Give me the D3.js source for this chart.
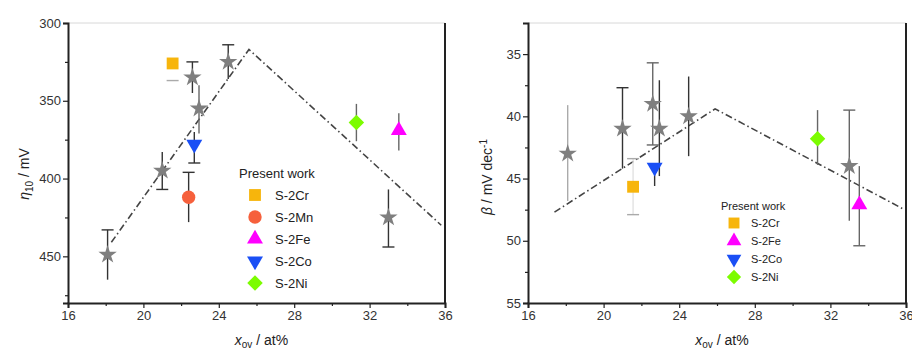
<!DOCTYPE html>
<html>
<head>
<meta charset="utf-8">
<script src="https://cdn.jsdelivr.net/npm/d3@7"></script>
<style>
  body { margin: 0; background: #fff; }
  svg text { font-family: "Liberation Sans", Arial, sans-serif; }
</style>
</head>
<body>
<div id="chart"></div>
<script>
// ---------------------------------------------------------------------------
// Data
// ---------------------------------------------------------------------------
const xTicks = [16, 20, 24, 28, 32, 36];
const xMinor = [18, 22, 26, 30, 34];

// literature points (grey stars), shared x
const starX = [18.1, 21.0, 22.6, 22.95, 24.5, 33.0];

// left panel : eta10
const etaTicks = [300, 350, 400, 450];
const etaMinor = [325, 375, 425, 475];
const etaStar = [449, 395, 335, 355, 325, 425];
const etaStarErr = [[433, 465], [383, 407], [325, 345], [340, 371], [314, 336], [407, 444]];
const etaStarCap = ["t", "b", "t", "", "t", "b"];
const etaStarTone = ["dark", "dark", "dark", "grey", "dark", "dark"];

const etaSamples = ["S-2Cr", "S-2Mn", "S-2Fe", "S-2Co", "S-2Ni"];
const etaWorkX = [21.55, 22.4, 33.55, 22.7, 31.3];
const etaWork = [326, 412, 369, 378, 364];
const etaWorkErr = [[337, 337], [396, 428], [358, 382], [370, 390], [352, 376]];
const etaWorkCap = ["b", "t", "", "b", ""];
const etaWorkTone = ["light", "dark", "grey", "dark", "grey"];

const etaGuideX = [18.3, 25.6, 35.8];
const etaGuide = [441, 317, 430];

// right panel : Tafel slope beta
const betaTicks = [35, 40, 45, 50, 55];
const betaMinor = [37.5, 42.5, 47.5, 52.5];
const betaStar = [43.0, 41.0, 39.0, 41.0, 40.0, 44.0];
const betaStarErr = [[39.1, 46.8], [37.7, 44.2], [35.7, 42.3], [37.1, 44.8], [36.8, 43.2], [39.5, 48.4]];
const betaStarCap = ["", "t", "tb", "", "", "t"];
const betaStarTone = ["light", "dark", "grey", "dark", "dark", "grey"];

const betaSamples = ["S-2Cr", "S-2Fe", "S-2Co", "S-2Ni"];
const betaWorkX = [21.56, 33.53, 22.7, 31.32];
const betaWork = [45.66, 47.1, 44.1, 41.8];
const betaWorkErr = [[43.4, 47.9], [44.0, 50.4], [44.1, 45.6], [39.5, 43.9]];
const betaWorkCap = ["tb", "b", "", ""];
const betaWorkTone = ["faint", "grey", "dark", "grey"];

const betaGuideX = [17.4, 25.9, 35.8];
const betaGuide = [47.7, 39.4, 47.4];

// ---------------------------------------------------------------------------
// Styles
// ---------------------------------------------------------------------------
const tones = { dark: "#333", grey: "#666", light: "#aaa", faint: "#e2e2e2" };
const sampleStyle = {
  "S-2Cr": { color: "#f7b50c", type: d3.symbolSquare, size: 140, rot: 0 },
  "S-2Mn": { color: "#f6603c", type: d3.symbolCircle, size: 140, rot: 0 },
  "S-2Fe": { color: "#ff00ff", type: d3.symbolTriangle, size: 110, rot: 0 },
  "S-2Co": { color: "#1a4ff5", type: d3.symbolTriangle, size: 110, rot: 180 },
  "S-2Ni": { color: "#7cfc00", type: d3.symbolSquare, size: 120, rot: 45 }
};
const starColor = "#7f7f7f";

const width = 912, height = 352;
const svg = d3.select("#chart").append("svg")
  .attr("width", width)
  .attr("height", height);

function drawPanel(p) {
  const x = d3.scaleLinear().domain([16, 36]).range([p.left, p.right]);
  const y = d3.scaleLinear().domain(p.yDomain).range([p.top, p.bottom]);
  const g = svg.append("g");

  // frame: light top, thick right
  g.append("line").attr("x1", p.left).attr("x2", p.right)
    .attr("y1", p.top).attr("y2", p.top)
    .attr("stroke", "#d8d8d8").attr("stroke-width", 1);
  g.append("line").attr("x1", p.right).attr("x2", p.right)
    .attr("y1", p.top).attr("y2", p.bottom)
    .attr("stroke", "#222").attr("stroke-width", 2);

  // axes
  g.append("g")
    .attr("transform", "translate(0," + p.bottom + ")")
    .call(d3.axisBottom(x).tickValues(xTicks).tickSize(5).tickPadding(3).tickFormat(d3.format("d")));
  g.append("g")
    .attr("transform", "translate(0," + p.bottom + ")")
    .call(d3.axisBottom(x).tickValues(xMinor).tickSize(3).tickFormat(""))
    .select(".domain").remove();
  g.append("g")
    .attr("transform", "translate(" + p.left + ",0)")
    .call(d3.axisLeft(y).tickValues(p.yTicks).tickSize(5).tickPadding(2).tickFormat(d3.format("d")));
  g.append("g")
    .attr("transform", "translate(" + p.left + ",0)")
    .call(d3.axisLeft(y).tickValues(p.yMinor).tickSize(3).tickFormat(""))
    .select(".domain").remove();

  g.selectAll(".domain").attr("stroke", "#222").attr("stroke-width", 2);
  g.selectAll(".tick line").attr("stroke", "#222").attr("stroke-width", 1.2);
  g.selectAll(".tick text").attr("fill", "#333").style("font-size", "13px");

  // dash-dot guide
  const guide = d3.line().x(d => x(d[0])).y(d => y(d[1]));
  g.append("path")
    .datum(p.guideX.map((v, i) => [v, p.guideY[i]]))
    .attr("d", guide)
    .attr("fill", "none")
    .attr("stroke", "#444")
    .attr("stroke-width", 1.6)
    .attr("stroke-dasharray", "7,3,1.5,3");

  // error bars
  const errs = [];
  starX.forEach((v, i) => errs.push({ x: v, e: p.starErr[i], cap: p.starCap[i], tone: p.starTone[i] }));
  p.workX.forEach((v, i) => errs.push({ x: v, e: p.workErr[i], cap: p.workCap[i], tone: p.workTone[i] }));
  const eb = g.append("g");
  errs.forEach(d => {
    const c = tones[d.tone];
    const cx = x(d.x);
    eb.append("line").attr("x1", cx).attr("x2", cx)
      .attr("y1", y(d.e[0])).attr("y2", y(d.e[1]))
      .attr("stroke", c).attr("stroke-width", 1.4);
    // caps drawn with at least the light tone so they stay visible
    const cc = d.tone === "faint" ? tones.light : c;
    if (d.cap.includes("t")) {
      eb.append("line").attr("x1", cx - 6).attr("x2", cx + 6)
        .attr("y1", y(d.e[0])).attr("y2", y(d.e[0]))
        .attr("stroke", cc).attr("stroke-width", 1.4);
    }
    if (d.cap.includes("b")) {
      eb.append("line").attr("x1", cx - 6).attr("x2", cx + 6)
        .attr("y1", y(d.e[1])).attr("y2", y(d.e[1]))
        .attr("stroke", cc).attr("stroke-width", 1.4);
    }
  });

  // stars
  g.selectAll(".star")
    .data(starX.map((v, i) => [v, p.starY[i]]))
    .enter().append("path")
    .attr("class", "star")
    .attr("d", d3.symbol().type(d3.symbolStar).size(105))
    .attr("transform", d => "translate(" + x(d[0]) + "," + y(d[1]) + ")")
    .attr("fill", starColor);

  // present work markers
  g.selectAll(".work")
    .data(p.samples.map((s, i) => ({ s: s, x: p.workX[i], y: p.workY[i] })))
    .enter().append("path")
    .attr("class", "work")
    .attr("d", d => d3.symbol().type(sampleStyle[d.s].type).size(sampleStyle[d.s].size)())
    .attr("transform", d => "translate(" + x(d.x) + "," + y(d.y) + ") rotate(" + sampleStyle[d.s].rot + ")")
    .attr("fill", d => sampleStyle[d.s].color);

  // legend
  const lg = g.append("g");
  lg.append("text")
    .attr("x", p.legend.x).attr("y", p.legend.y)
    .attr("fill", "#222")
    .style("font-size", p.legend.font + "px")
    .text("Present work");
  p.samples.forEach((s, i) => {
    const yy = p.legend.y + p.legend.first + i * p.legend.step;
    const st = sampleStyle[s];
    lg.append("path")
      .attr("d", d3.symbol().type(st.type).size(st.size * p.legend.scale)())
      .attr("transform", "translate(" + (p.legend.x + p.legend.sym) + "," + yy + ") rotate(" + st.rot + ")")
      .attr("fill", st.color);
    lg.append("text")
      .attr("x", p.legend.x + p.legend.txt).attr("y", yy)
      .attr("dy", "0.35em")
      .attr("fill", "#222")
      .style("font-size", p.legend.font + "px")
      .text(s);
  });

  // axis titles
  const xt = g.append("text")
    .attr("x", (p.left + p.right) / 2 + 5).attr("y", 345)
    .attr("text-anchor", "middle")
    .attr("fill", "#222")
    .style("font-size", "14px");
  xt.append("tspan").style("font-style", "italic").text("x");
  xt.append("tspan").attr("dy", 3).style("font-size", "10px").text("ov");
  xt.append("tspan").attr("dy", -3).text(" / at%");

  const yt = g.append("text")
    .attr("transform", "translate(" + p.yTitleX + "," + p.yTitleY + ") rotate(-90)")
    .attr("text-anchor", "middle")
    .attr("fill", "#222")
    .style("font-size", "14px");
  p.yTitle(yt);
}

drawPanel({
  left: 68, right: 445, top: 23, bottom: 303,
  yDomain: [300, 480], yTicks: etaTicks, yMinor: etaMinor,
  starY: etaStar, starErr: etaStarErr, starCap: etaStarCap, starTone: etaStarTone,
  samples: etaSamples, workX: etaWorkX, workY: etaWork,
  workErr: etaWorkErr, workCap: etaWorkCap, workTone: etaWorkTone,
  guideX: etaGuideX, guideY: etaGuide,
  legend: { x: 239, y: 178, first: 17, step: 22, sym: 16, txt: 36, font: 13, scale: 1 },
  yTitleX: 29, yTitleY: 174,
  yTitle: t => {
    t.append("tspan").style("font-style", "italic").text("η");
    t.append("tspan").attr("dy", 4).style("font-size", "10px").text("10");
    t.append("tspan").attr("dy", -4).text(" / mV");
  }
});

drawPanel({
  left: 528, right: 906, top: 23, bottom: 303,
  yDomain: [32.5, 55], yTicks: betaTicks, yMinor: betaMinor,
  starY: betaStar, starErr: betaStarErr, starCap: betaStarCap, starTone: betaStarTone,
  samples: betaSamples, workX: betaWorkX, workY: betaWork,
  workErr: betaWorkErr, workCap: betaWorkCap, workTone: betaWorkTone,
  guideX: betaGuideX, guideY: betaGuide,
  legend: { x: 721, y: 210, first: 13, step: 18, sym: 13, txt: 30, font: 11, scale: 0.85 },
  yTitleX: 492, yTitleY: 177,
  yTitle: t => {
    t.append("tspan").style("font-style", "italic").text("β");
    t.append("tspan").text(" / mV dec");
    t.append("tspan").attr("dy", -5).style("font-size", "10px").text("-1");
  }
});
</script>
</body>
</html>
